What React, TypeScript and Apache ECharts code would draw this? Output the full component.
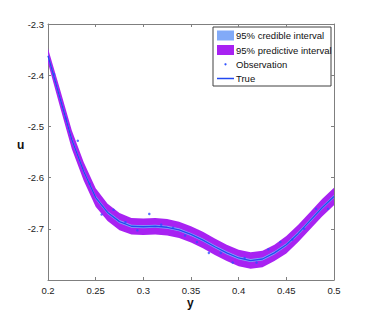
import React, { useEffect, useRef } from 'react';
import * as echarts from 'echarts';

// Grid of the fitted curve (x = "y", value = "u")
const xNodes = [0.2, 0.2125, 0.225, 0.2375, 0.25, 0.2625, 0.275, 0.2875, 0.3, 0.3125, 0.325, 0.3375, 0.35, 0.3625, 0.375, 0.3875, 0.4, 0.4125, 0.425, 0.4375, 0.45, 0.4625, 0.475, 0.4875, 0.5];
const trueU = [-2.362, -2.444, -2.526, -2.588, -2.639, -2.668, -2.686, -2.695, -2.696, -2.695, -2.697, -2.702, -2.711, -2.722, -2.735, -2.747, -2.757, -2.762, -2.759, -2.747, -2.731, -2.709, -2.684, -2.659, -2.637];
// half widths of the intervals
const predHalf = [0.014, 0.017, 0.018, 0.018, 0.018, 0.017, 0.017, 0.016, 0.016, 0.016, 0.016, 0.016, 0.016, 0.016, 0.016, 0.016, 0.016, 0.016, 0.016, 0.016, 0.017, 0.017, 0.017, 0.017, 0.017];
const credHalf = [0.004, 0.004, 0.004, 0.0035, 0.0035, 0.003, 0.003, 0.003, 0.003, 0.003, 0.003, 0.003, 0.003, 0.003, 0.003, 0.003, 0.003, 0.003, 0.003, 0.003, 0.003, 0.003, 0.003, 0.003, 0.003];
// Observations
const obsX = [0.20625, 0.21875, 0.23125, 0.24375, 0.25625, 0.26875, 0.28125, 0.29375, 0.30625, 0.31875, 0.33125, 0.34375, 0.35625, 0.36875, 0.38125, 0.39375, 0.40625, 0.41875, 0.43125, 0.44375, 0.45625, 0.46875, 0.48125, 0.49375];
const obsU = [-2.398, -2.485, -2.528, -2.612, -2.672, -2.663, -2.687, -2.703, -2.671, -2.692, -2.698, -2.713, -2.726, -2.747, -2.747, -2.766, -2.757, -2.766, -2.740, -2.726, -2.721, -2.700, -2.661, -2.661];

const legendLabels = ['95% credible interval', '95% predictive interval', 'Observation', 'True'];
const xRange = { min: 0.2, max: 0.5, step: 0.05 };
const yRange = { min: -2.8, max: -2.3, step: 0.1 };

const PURPLE = '#A822F2';
const LIGHTBLUE = '#82AAF8';
const BLUE = '#2248F0';
const OBS = '#2E50FF';
const AXIS = '#7f7f7f';
const FONT = '"Liberation Sans", Arial, Helvetica, sans-serif';

function bandSeries(name: string, half: number[], color: string, z: number) {
  const data = xNodes.map((x, i) => [x, trueU[i] - half[i], trueU[i] + half[i]]);
  return {
    type: 'custom',
    name,
    silent: true,
    z,
    encode: { x: 0, y: [1, 2] },
    data,
    renderItem: (params: any, api: any) => {
      if (params.dataIndex !== 0) return null;
      const upper = data.map((d) => api.coord([d[0], d[2]]));
      const lower = data.map((d) => api.coord([d[0], d[1]])).reverse();
      return {
        type: 'polygon',
        shape: { points: upper.concat(lower) },
        style: { fill: color, stroke: 'none' },
      };
    },
  };
}

export default function App() {
  const ref = useRef<HTMLDivElement>(null);
  useEffect(() => {
    const chart = echarts.init(ref.current!, null, { renderer: 'svg' });
    const axisCommon = {
      type: 'value' as const,
      splitLine: { show: false },
      axisLine: { show: true, lineStyle: { color: AXIS, width: 1 } },
      axisTick: { show: true, inside: true, length: 3, lineStyle: { color: AXIS } },
    };
    const labelStyle = { color: '#222', fontSize: 9.5, fontFamily: FONT };
    const lgX = 213, lgY = 27, rowY = [35.5, 50, 64.3, 78.5];
    const option: any = {
      animation: false,
      backgroundColor: '#fff',
      textStyle: { fontFamily: FONT },
      grid: { left: 48, top: 24, right: 35, bottom: 35 },
      xAxis: [
        {
          ...axisCommon, position: 'bottom', min: xRange.min, max: xRange.max, interval: xRange.step,
          axisLabel: { ...labelStyle, margin: 5, formatter: (v: number) => String(+v.toFixed(2)) },
        },
        {
          ...axisCommon, position: 'top', min: xRange.min, max: xRange.max, interval: xRange.step,
          axisLabel: { show: false },
        },
      ],
      yAxis: [
        {
          ...axisCommon, position: 'left', min: yRange.min, max: yRange.max, interval: yRange.step,
          axisLabel: { ...labelStyle, margin: 4, formatter: (v: number) => (v < yRange.min + 0.001 ? '' : v.toFixed(1)) },
        },
        {
          ...axisCommon, position: 'right', min: yRange.min, max: yRange.max, interval: yRange.step,
          axisLabel: { show: false },
        },
      ],
      series: [
        bandSeries(legendLabels[1], predHalf, PURPLE, 1),
        bandSeries(legendLabels[0], credHalf, LIGHTBLUE, 2),
        {
          type: 'scatter', name: legendLabels[2], symbol: 'circle', symbolSize: 2.5,
          itemStyle: { color: OBS },
          data: obsX.map((x, i) => [x, obsU[i]]),
          z: 3,
        },
        {
          type: 'line', name: legendLabels[3], symbol: 'none',
          lineStyle: { color: BLUE, width: 1.3 },
          data: xNodes.map((x, i) => [x, trueU[i]]),
          z: 4,
        },
      ],
      graphic: [
        { type: 'text', left: 17, top: 139, style: { text: 'u', font: `bold 12px ${FONT}`, fill: '#111' } },
        { type: 'text', left: 187, top: 297, style: { text: 'y', font: `bold 12px ${FONT}`, fill: '#111' } },
        {
          type: 'group', z: 100,
          children: [
            { type: 'rect', shape: { x: lgX, y: lgY, width: 118, height: 59 }, style: { fill: '#fff', stroke: '#404040', lineWidth: 1 } },
            { type: 'rect', shape: { x: 217, y: rowY[0] - 5, width: 17, height: 10 }, style: { fill: LIGHTBLUE } },
            { type: 'rect', shape: { x: 217, y: rowY[1] - 5, width: 17, height: 10 }, style: { fill: PURPLE } },
            { type: 'circle', shape: { cx: 225.5, cy: rowY[2], r: 1.1 }, style: { fill: OBS } },
            { type: 'line', shape: { x1: 217, y1: rowY[3], x2: 234, y2: rowY[3] }, style: { stroke: BLUE, lineWidth: 1.5 } },
            ...legendLabels.map((t, i) => ({
              type: 'text', x: 236, y: rowY[i],
              style: { text: t, font: `9.5px ${FONT}`, fill: '#111', verticalAlign: 'middle' },
            })),
          ],
        },
      ],
    };
    chart.setOption(option);
    return () => chart.dispose();
  }, []);
  return <div ref={ref} style={{ position: 'fixed', left: 0, top: 0, width: 369, height: 315 }} />;
}
